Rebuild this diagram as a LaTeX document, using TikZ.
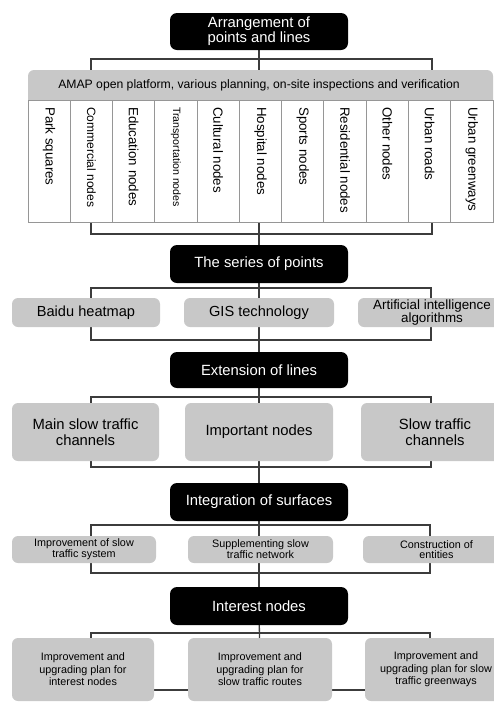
\documentclass[tikz,border=0pt]{standalone}
\usepackage{fontspec}
\setmainfont{Liberation Sans}
\usetikzlibrary{backgrounds}
\definecolor{boxgray}{RGB}{200,200,200}
\definecolor{linegray}{RGB}{60,60,60}
\definecolor{colborder}{RGB}{150,150,150}
\begin{document}
\begin{tikzpicture}[x=1pt,y=-1pt,
  hdr/.style={fill=black, text=white, rounded corners=7pt, inner sep=0pt, align=center,
    minimum width=178, font=\fontsize{14.8}{15}\selectfont},
  gbox/.style={fill=boxgray, rounded corners=6pt, inner sep=0pt, align=center, text=black},
  colbox/.style={draw=colborder, fill=white, line width=0.9pt, inner sep=0pt,
    minimum width=42.27, minimum height=122},
  coltxt/.style={rotate=-90, anchor=west, inner sep=0pt},
  conn/.style={draw=linegray, line width=1.3pt}]
\useasboundingbox (0,0) rectangle (494,702);
\clip (0,0) rectangle (494,702);

% headers
\node[hdr, minimum height=37] (h1) at (259,31.5) {Arrangement of\\points and lines};
\node[hdr, minimum height=38] (h2) at (259,264) {The series of points};
\node[hdr, minimum height=36] (h3) at (259,370) {Extension of lines};
\node[hdr, minimum height=38] (h4) at (259,502) {Integration of surfaces};
\node[hdr, minimum height=38] (h5) at (259,606) {Interest nodes};

% AMAP bar
\fill[boxgray] (28,101) [rounded corners=6pt] -- (28,70) -- (493,70) [sharp corners] -- (493,101) -- cycle;
\node[inner sep=0pt, font=\fontsize{12.2}{13}\selectfont] (amap) at (259,85.5)
  {AMAP open platform, various planning, on-site inspections and verification};

% columns
\foreach \t/\s [count=\i] in {Park squares/13.3, Commercial nodes/12, Education nodes/13.3,
  Transportation nodes/10.6, Cultural nodes/13.3, Hospital nodes/13.3, Sports nodes/13.3,
  Residential nodes/13.3, Other nodes/13.3, Urban roads/13.3, Urban greenways/13.3}{
  \node[colbox] (col\i) at ({28+42.27*(\i-0.5)},161) {};
  \node[coltxt, font=\fontsize{\s}{14}\selectfont] (ct\i) at ({28+42.27*(\i-0.5)},107) {\t};
}

% row 2
\node[gbox, minimum width=148, minimum height=29, font=\fontsize{14.6}{15}\selectfont] (b21) at (86,312.5) {Baidu heatmap};
\node[gbox, minimum width=150, minimum height=29, font=\fontsize{14.6}{15}\selectfont] (b22) at (259,312.5) {GIS technology};
\node[gbox, minimum width=148, minimum height=29, font=\fontsize{13.4}{10}\selectfont] (b23) at (432,312.5) {Artificial intelligence\\algorithms};

% row 3
\node[gbox, minimum width=147, minimum height=58, font=\fontsize{14.8}{15.5}\selectfont] (b31) at (85.5,432) {Main slow traffic\\channels};
\node[gbox, minimum width=148, minimum height=58, font=\fontsize{14.8}{15.5}\selectfont] (b32) at (259,432) {Important nodes};
\node[gbox, minimum width=148, minimum height=58, font=\fontsize{14.8}{15.5}\selectfont] (b33) at (435,432) {Slow traffic\\channels};

% row 4
\node[gbox, minimum width=144, minimum height=27, font=\fontsize{10.8}{9.5}\selectfont] (b41) at (84,549.5) {Improvement of slow\\traffic system};
\node[gbox, minimum width=145, minimum height=27, font=\fontsize{10.8}{9.5}\selectfont] (b42) at (260.5,549.5) {Supplementing slow\\traffic network};
\node[gbox, minimum width=147, minimum height=27, font=\fontsize{10.8}{9.5}\selectfont] (b43) at (436.5,549.5) {Construction of\\entities};

% row 5
\node[gbox, minimum width=142, minimum height=63, font=\fontsize{10.8}{12.5}\selectfont] (b51) at (83,669.5) {Improvement and\\upgrading plan for\\interest nodes};
\node[gbox, minimum width=144, minimum height=63, font=\fontsize{10.8}{12.5}\selectfont] (b52) at (260,669.5) {Improvement and\\upgrading plan for\\slow traffic routes};
\node[gbox, minimum width=142, minimum height=63, font=\fontsize{10.8}{12.5}\selectfont] (b53) at (436,669.5) {Improvement and\\upgrading plan for slow\\traffic greenways};

% connectors (behind)
\coordinate (g1a) at (91,59);  \coordinate (g1b) at (432,234);
\coordinate (g2a) at (91,288); \coordinate (g2b) at (431,340);
\coordinate (g3a) at (91,397); \coordinate (g3b) at (431,467);
\coordinate (g4a) at (91,525); \coordinate (g4b) at (430,573);
\coordinate (g5a) at (91,633); \coordinate (g5b) at (430,690);
\begin{pgfonlayer}{background}
  \draw[conn] (g1a) rectangle (g1b);
  \draw[conn] (g2a) rectangle (g2b);
  \draw[conn] (g3a) rectangle (g3b);
  \draw[conn] (g4a) rectangle (g4b);
  \draw[conn] (g5a) rectangle (g5b);
  \draw[conn] (h1) -- (h2);
  \draw[conn] (h2) -- (h3);
  \draw[conn] (h3) -- (h4);
  \draw[conn] (h4) -- (h5);
  \draw[conn] (h5) -- (b52);
\end{pgfonlayer}
\end{tikzpicture}
\end{document}
